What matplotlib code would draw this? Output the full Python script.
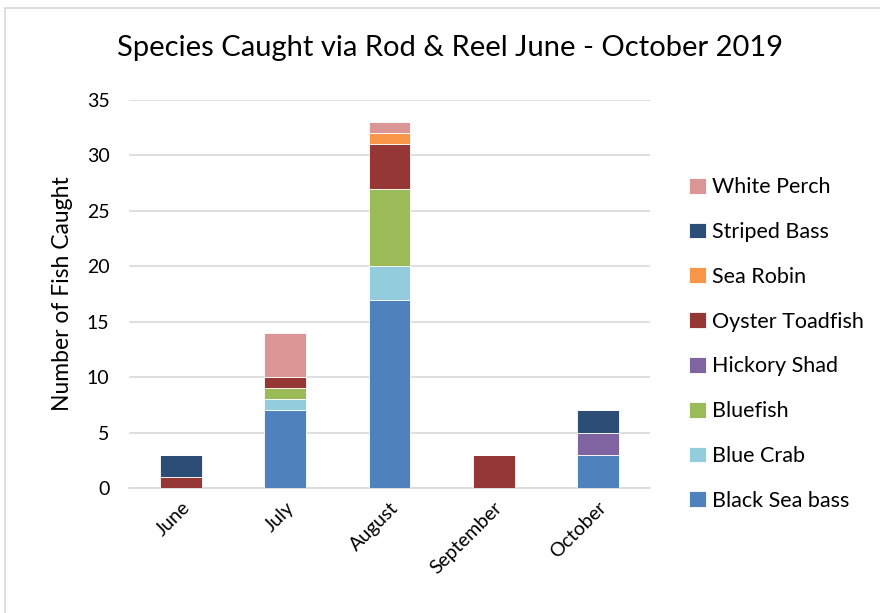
import matplotlib
matplotlib.use("Agg")
import matplotlib.pyplot as plt
from matplotlib.patches import Rectangle
import numpy as np

months = ["June", "July", "August", "September", "October"]
species = ["Black Sea bass", "Blue Crab", "Bluefish", "Hickory Shad",
           "Oyster Toadfish", "Sea Robin", "Striped Bass", "White Perch"]
black_sea_bass = [0, 7, 17, 0, 3]
blue_crab = [0, 1, 3, 0, 0]
bluefish = [0, 1, 7, 0, 0]
hickory_shad = [0, 0, 0, 0, 2]
oyster_toadfish = [1, 1, 4, 3, 0]
sea_robin = [0, 0, 1, 0, 0]
striped_bass = [2, 0, 0, 0, 2]
white_perch = [0, 4, 1, 0, 0]
series = [black_sea_bass, blue_crab, bluefish, hickory_shad,
          oyster_toadfish, sea_robin, striped_bass, white_perch]
colors = ["#4f81bd", "#93cddd", "#9bbb59", "#8064a2",
          "#953735", "#f79646", "#2c4d75", "#d99694"]

plt.rcParams['font.family'] = ['Lato', 'DejaVu Sans']

fig = plt.figure(figsize=(8.8, 6.13), dpi=100)
fig.patches.append(Rectangle((5/880, -0.1), 1.2, (613-8)/613 + 0.1,
                             transform=fig.transFigure, fill=False,
                             edgecolor="#d9d9d9", linewidth=1.2))
ax = fig.add_axes([129/880, (613-488)/613, (650-129)/880, (488-100)/613])

x = np.arange(len(months))
bottom = np.zeros(len(months))
handles = []
for name, vals, c in zip(species, series, colors):
    v = np.array(vals, dtype=float)
    b = ax.bar(x, v, 0.4, bottom=bottom, color=c, edgecolor="white",
               linewidth=0.6, label=name, zorder=3)
    handles.append(b)
    bottom += v

ax.set_xlim(-0.5, 4.5)
ax.set_ylim(0, 35)
ax.set_yticks(range(0, 36, 5))
ax.yaxis.grid(True, color="#d9d9d9", linewidth=1.2, zorder=0)
ax.set_axisbelow(True)
for s in ["top", "right", "left"]:
    ax.spines[s].set_visible(False)
ax.spines["bottom"].set_color("#d9d9d9")
ax.spines["bottom"].set_linewidth(1.2)
ax.tick_params(axis="both", length=0, labelsize=14, colors="black")
ax.tick_params(axis="y", pad=14)
ax.set_xticks(x)
ax.set_xticklabels(months, rotation=45, ha="right", rotation_mode="anchor")
ax.tick_params(axis="x", pad=8)
ax.set_ylabel("Number of Fish Caught", fontsize=16.5, labelpad=10)

fig.text(450/880, 1 - 48/613, "Species Caught via Rod & Reel June - October 2019",
         ha="center", va="center", fontsize=21)

leg = fig.legend(handles[::-1], species[::-1], loc="center left",
                 bbox_to_anchor=(670/880, 1 - 344/613), frameon=False,
                 fontsize=15.5, handlelength=0.75, handleheight=0.75,
                 labelspacing=1.15, handletextpad=0.3)

fig.savefig("out.png", dpi=100)
